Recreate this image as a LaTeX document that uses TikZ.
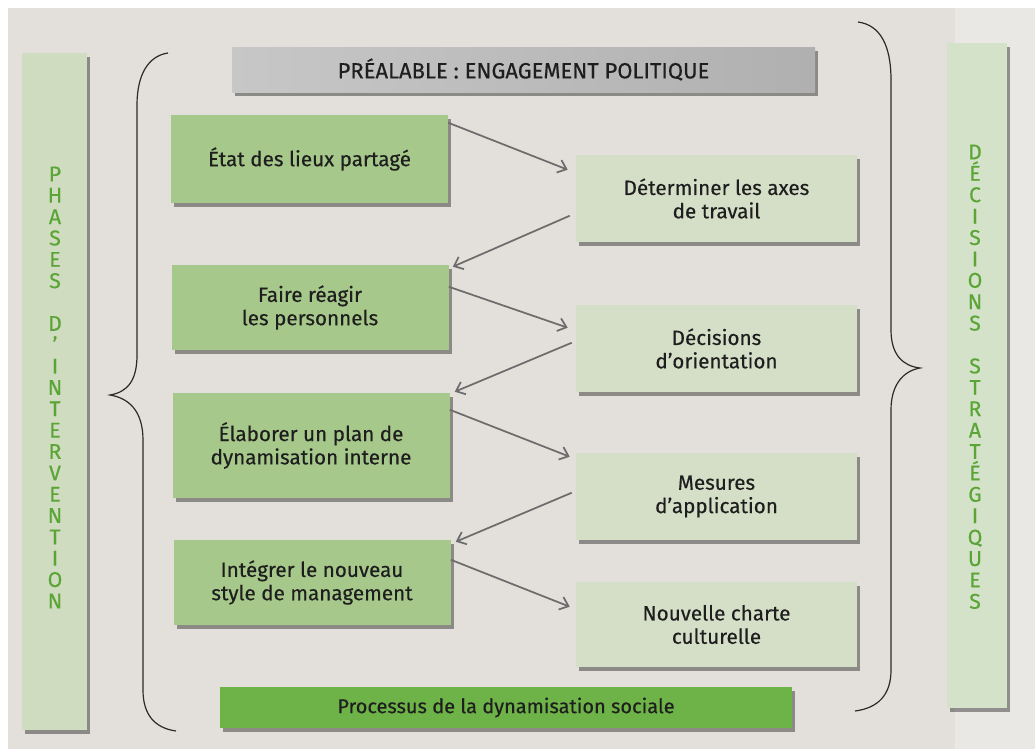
\documentclass[tikz,border=0pt]{standalone}
\usepackage{fontspec}
\setmainfont{Fira Sans}[FakeBold=0.35]
\usetikzlibrary{arrows.meta,shadows,calc}
\definecolor{pagebg}{HTML}{E3DFDB}
\definecolor{pagebgr}{HTML}{EAE8E5}
\definecolor{lbox}{HTML}{A6C88A}
\definecolor{rbox}{HTML}{D5DFC7}
\definecolor{procbar}{HTML}{6DB347}
\definecolor{sidebar}{HTML}{CFDCBF}
\definecolor{sidebarr}{HTML}{D3E2C9}
\definecolor{lettergreen}{HTML}{5BA537}
\definecolor{arrowgray}{HTML}{6C6C6C}
\definecolor{txt}{HTML}{1E1E1E}
\definecolor{bracecol}{HTML}{2A2A2A}
\tikzset{
  boxshadow/.style={drop shadow={shadow xshift=2.5pt,shadow yshift=-3pt,opacity=.38,fill=black}},
  boxtext/.style={text=txt,align=center,font=\fontsize{15.5}{17.5}\selectfont,inner sep=0pt},
  leftbox/.style={boxtext,fill=lbox,boxshadow,minimum width=207.75pt},
  rightbox/.style={boxtext,fill=rbox,boxshadow,minimum width=210.75pt,minimum height=65.25pt},
  letter/.style={text=lettergreen,font=\fontsize{16}{16}\selectfont,inner sep=0pt,text height=12.5pt,text depth=0pt},
  flow/.style={draw=arrowgray,line width=1.3pt,-{Straight Barb[length=6pt,width=10pt,line width=1.3pt]}},
  bracestyle/.style={draw=bracecol,line width=0.9pt},
}
\begin{document}
\begin{tikzpicture}[x=0.75pt,y=-0.75pt]
\useasboundingbox (0,0) rectangle (1035,753);
% page background
\fill[white] (0,0) rectangle (1035,753);
\fill[pagebg] (8,8) rectangle (1035,749);
\fill[pagebgr] (955,8) rectangle (1035,749);

% side bars
\node[fill=sidebar,boxshadow,minimum width=48.75pt,minimum height=507.75pt,inner sep=0pt] (phasesbar) at (54.5,391.5) {};
\node[fill=sidebarr,boxshadow,minimum width=45pt,minimum height=498.75pt,inner sep=0pt] (decbar) at (977,375.5) {};
\foreach \l/\i in {P/0,H/1,A/2,S/3,E/4,S/5,D/7,’/8,I/9,N/10,T/11,E/12,R/13,V/14,E/15,N/16,T/17,I/18,O/19,N/20}
  \node[letter] (pl\i) at (55,173+\i*21.35) {\l};
\foreach \l/\i in {D/0,É/1,C/2,I/3,S/4,I/5,O/6,N/7,S/8,S/10,T/11,R/12,A/13,T/14,É/15,G/16,I/17,Q/18,U/19,E/20,S/21}
  \node[letter] (dl\i) at (975,151+\i*21.4) {\l};

% top and bottom bars
\node[boxtext,font=\fontsize{16.5}{18}\selectfont,left color=black!22,right color=black!31,boxshadow,minimum width=437.25pt,minimum height=33.75pt] (prealable) at (523.5,69.5) {PRÉALABLE : ENGAGEMENT POLITIQUE};
\node[boxtext,font=\fontsize{15}{17}\selectfont,fill=procbar,boxshadow,minimum width=429pt,minimum height=30.75pt] (processus) at (506,707.5) {Processus de la dynamisation sociale};

% left boxes
\node[leftbox,minimum height=66pt] (L1) at (309.5,159) {État des lieux partagé};
\node[leftbox,minimum height=63.75pt] (L2) at (310,307.5) {Faire réagir\\les personnels};
\node[leftbox,minimum height=78.75pt] (L3) at (311,445.5) {Élaborer un plan de\\dynamisation interne};
\node[leftbox,minimum height=63.75pt] (L4) at (312,582.5) {Intégrer le nouveau\\style de management};

% right boxes
\node[rightbox] (R1) at (716.5,198.5) {Déterminer les axes\\de travail};
\node[rightbox] (R2) at (716.5,348.5) {Décisions\\d’orientation};
\node[rightbox] (R3) at (716.5,496.5) {Mesures\\d’application};
\node[rightbox,minimum height=63.75pt] (R4) at (716.5,624.5) {Nouvelle charte\\culturelle};

% connectors
\draw[flow] ($(L1.north east)+(0,8)$) -- ($(R1.north west)+(-8,15)$);
\draw[flow] ($(R1.north west)+(-6,61)$) -- ($(L2.north east)+(4,2)$);
\draw[flow] ($(L2.north east)+(0,22)$) -- ($(R2.north west)+(-8,23)$);
\draw[flow] ($(R2.north west)+(-4,38)$) -- ($(L3.north east)+(5,-1)$);
\draw[flow] ($(L3.north east)+(0,17)$) -- ($(R3.north west)+(-6,4)$);
\draw[flow] ($(R3.north west)+(-4,40)$) -- ($(L4.north east)+(5,2)$);
\draw[flow] ($(L4.north east)+(0,20)$) -- ($(R4.north west)+(-6,25)$);

% braces
\draw[bracestyle] (168,53) .. controls (148,56) and (137,75) .. (137,105) -- (137,355)
  .. controls (137,380) and (128,392) .. (110,395)
  .. controls (128,398) and (143,410) .. (143,440) -- (143,690)
  .. controls (143,715) and (155,728) .. (176,731);
\draw[bracestyle] (858,22) .. controls (880,25) and (891,45) .. (891,80) -- (891,330)
  .. controls (891,355) and (903,366) .. (920,368)
  .. controls (903,371) and (891,385) .. (891,410) -- (891,670)
  .. controls (891,695) and (878,708) .. (855,711);
\end{tikzpicture}
\end{document}
